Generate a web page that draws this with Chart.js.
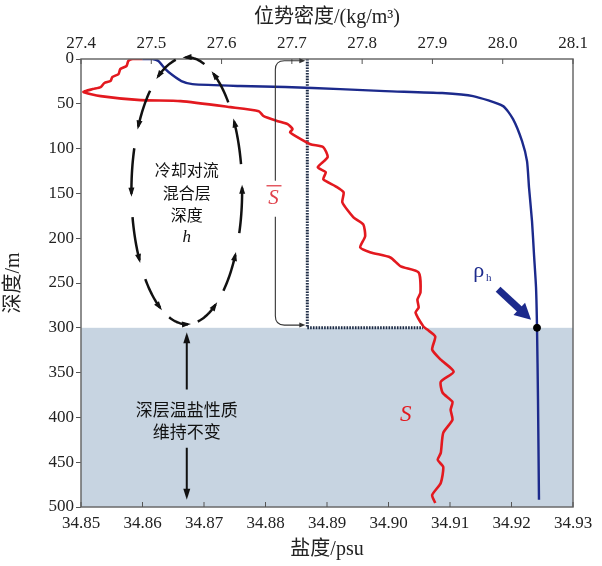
<!DOCTYPE html>
<html><head><meta charset="utf-8">
<script src="https://cdn.jsdelivr.net/npm/chart.js@4.4.1/dist/chart.umd.min.js"></script>
<style>html,body{margin:0;padding:0;background:#fff}</style>
</head><body>
<canvas id="c" width="602" height="566"></canvas>
<script>
// ---------- data ----------
const salinityTicks = [34.85, 34.86, 34.87, 34.88, 34.89, 34.90, 34.91, 34.92, 34.93];
const salinityTickLabels = ['34.85','34.86','34.87','34.88','34.89','34.90','34.91','34.92','34.93'];
const densityTicks = [27.4, 27.5, 27.6, 27.7, 27.8, 27.9, 28.0, 28.1];
const densityTickLabels = ['27.4','27.5','27.6','27.7','27.8','27.9','28.0','28.1'];
const depthTicks = [0, 50, 100, 150, 200, 250, 300, 350, 400, 450, 500];

// salinity profile S (psu) vs depth (m)
const saltDepth = [0, 0, 2.2, 7.8, 11.2, 16.8, 20.1, 24.6, 26.8, 31.3, 33.6, 36.9, 41.4, 45.9, 47, 53.7, 58.2, 63.8, 69.4, 72.7, 78.3, 81.7, 86.1, 95.1, 98.4, 109.6, 120.8, 126.4, 134.2, 142.1, 148.8, 160.0, 176.7, 184.6, 198.0, 210.3, 215.9, 221.5, 231.5, 238.3, 260.6, 268.5, 277.4, 283.0, 298.7, 302.0, 309.8, 324.4, 335.6, 349.0, 360.2, 372.5, 382.6, 391.5, 402.7, 417.2, 439.6, 447.4, 455.3, 473.2, 486.6, 495.5];
const saltValues = [34.8600, 34.8584, 34.8577, 34.8574, 34.8564, 34.8561, 34.8551, 34.8548, 34.8538, 34.8532, 34.8519, 34.8504, 34.8532, 34.8597, 34.8662, 34.8743, 34.8789, 34.8797, 34.8820, 34.8836, 34.8844, 34.8840, 34.8849, 34.8873, 34.8894, 34.8901, 34.8885, 34.8898, 34.8894, 34.8914, 34.8927, 34.8925, 34.8943, 34.8959, 34.8962, 34.8954, 34.8971, 34.9003, 34.9020, 34.9049, 34.9052, 34.9047, 34.9049, 34.9044, 34.9057, 34.9063, 34.9076, 34.9071, 34.9085, 34.9106, 34.9085, 34.9088, 34.9104, 34.9101, 34.9104, 34.9089, 34.9085, 34.9080, 34.9089, 34.9085, 34.9071, 34.9076];

// potential density (kg/m3) vs depth (m)
const densDepth = [0, 0, 2.2, 11.2, 17.9, 24.6, 28.0, 30.2, 31.3, 33.6, 35.8, 38.0, 41.4, 52.6, 67.1, 91.7, 114.1, 143.2, 181.2, 218.1, 255.0, 300, 380, 492];
const densValues = [27.4874, 27.5016, 27.5101, 27.5201, 27.5300, 27.5428, 27.5585, 27.6267, 27.6906, 27.7688, 27.8328, 27.9138, 27.9578, 28.0005, 28.0147, 28.0275, 28.0346, 28.0374, 28.0417, 28.0445, 28.0474, 28.0488, 28.0502, 28.0516];

// mixed layer quantities
const meanSalinity = 34.8868;      // S-bar
const mixedDepth = 300;            // h
const salinityAtH = 34.9056;
const densityAtH = 28.0488;        // rho_h
const bottomDepth = 500;

const FONT = "'Liberation Serif', 'Noto Sans CJK SC', serif";
const CJK = "'Noto Sans CJK SC', 'Liberation Serif', sans-serif";
const RED = '#e3191f';
const BLUE = '#1c2a8c';

function arrowHead(ctx, x, y, ang, len, w) {
  ctx.save(); ctx.translate(x, y); ctx.rotate(ang);
  ctx.beginPath(); ctx.moveTo(0, 0); ctx.lineTo(-len, w / 2); ctx.lineTo(-len, -w / 2); ctx.closePath(); ctx.fill();
  ctx.restore();
}

const decor = {
  id: 'decor',
  beforeDatasetsDraw(chart) {
    const {ctx, chartArea: a, scales} = chart;
    const y = scales.y;
    ctx.save();
    ctx.fillStyle = '#c7d4e1';
    const y0 = y.getPixelForValue(mixedDepth), y1 = y.getPixelForValue(bottomDepth);
    ctx.fillRect(a.left, y0, a.right - a.left, y1 - y0);
    ctx.restore();
  },
  afterDatasetsDraw(chart) {
    const {ctx, chartArea: a, scales} = chart;
    const x = scales.x, x2 = scales.x2, y = scales.y;
    ctx.save();
    // frame
    ctx.strokeStyle = '#6a6a6a'; ctx.lineWidth = 1.5;
    ctx.strokeRect(a.left, a.top, a.right - a.left, a.bottom - a.top);
    // inner ticks
    ctx.lineWidth = 1; ctx.strokeStyle = '#555';
    salinityTicks.forEach(v => { const px = x.getPixelForValue(v); ctx.beginPath(); ctx.moveTo(px, a.bottom); ctx.lineTo(px, a.bottom - 5); ctx.stroke(); });
    densityTicks.forEach(v => { const px = x2.getPixelForValue(v); ctx.beginPath(); ctx.moveTo(px, a.top); ctx.lineTo(px, a.top + 5); ctx.stroke(); });

    // convection ellipse
    const ecS = 34.8672, ecD = 147, erS = 0.0090, erD = 149;
    const cx = x.getPixelForValue(ecS), rx = x.getPixelForValue(ecS + erS) - cx;
    const cy = y.getPixelForValue(ecD), ry = y.getPixelForValue(ecD + erD) - cy;
    ctx.strokeStyle = '#111'; ctx.fillStyle = '#111'; ctx.lineWidth = 2.5; ctx.lineCap = 'butt';
    const n = 12, off = 0.2;
    for (let i = 0; i < n; i++) {
      const t0 = off + i * 2 * Math.PI / n, t1 = t0 + 0.66 * 2 * Math.PI / n;
      ctx.beginPath();
      for (let k = 0; k <= 16; k++) {
        const t = t0 + (t1 - t0) * k / 16;
        const px = cx + rx * Math.cos(t), py = cy - ry * Math.sin(t);
        k ? ctx.lineTo(px, py) : ctx.moveTo(px, py);
      }
      ctx.stroke();
      const tx = cx + rx * Math.cos(t1), ty = cy - ry * Math.sin(t1);
      const ang = Math.atan2(-ry * Math.cos(t1), -rx * Math.sin(t1));
      arrowHead(ctx, tx + 3 * Math.cos(ang), ty + 3 * Math.sin(ang), ang, 9, 6);
    }

    // deep layer double arrow
    const ax = x.getPixelForValue(ecS);
    const yA = y.getPixelForValue(305), yB = y.getPixelForValue(369), yC = y.getPixelForValue(434), yD = y.getPixelForValue(492);
    ctx.lineWidth = 2;
    ctx.beginPath(); ctx.moveTo(ax, yA + 8); ctx.lineTo(ax, yB); ctx.moveTo(ax, yC); ctx.lineTo(ax, yD - 8); ctx.stroke();
    arrowHead(ctx, ax, yA, -Math.PI / 2, 11, 7);
    arrowHead(ctx, ax, yD, Math.PI / 2, 11, 7);

    // S-bar bracket
    const bx = x.getPixelForValue(34.8816), mx = x.getPixelForValue(meanSalinity);
    const bTop = y.getPixelForValue(2), bBot = y.getPixelForValue(297);
    ctx.strokeStyle = '#333'; ctx.fillStyle = '#333'; ctx.lineWidth = 1.1;
    ctx.beginPath();
    ctx.moveTo(bx, y.getPixelForValue(136)); ctx.lineTo(bx, bTop + 9); ctx.quadraticCurveTo(bx, bTop, bx + 9, bTop); ctx.lineTo(mx - 5, bTop);
    ctx.moveTo(bx, y.getPixelForValue(176)); ctx.lineTo(bx, bBot - 9); ctx.quadraticCurveTo(bx, bBot, bx + 9, bBot); ctx.lineTo(mx - 5, bBot);
    ctx.stroke();
    arrowHead(ctx, mx - 2, bTop, 0, 6, 5);
    arrowHead(ctx, mx - 2, bBot, 0, 6, 5);

    // rho_h arrow
    const sx = x2.getPixelForValue(27.9934), sy = y.getPixelForValue(257);
    const ex = x2.getPixelForValue(28.0403), ey = y.getPixelForValue(291);
    const ang2 = Math.atan2(ey - sy, ex - sx);
    ctx.strokeStyle = BLUE; ctx.fillStyle = BLUE; ctx.lineWidth = 7;
    ctx.beginPath(); ctx.moveTo(sx, sy); ctx.lineTo(ex - 12 * Math.cos(ang2), ey - 12 * Math.sin(ang2)); ctx.stroke();
    arrowHead(ctx, ex, ey, ang2, 16, 17);

    // texts
    ctx.textAlign = 'center'; ctx.textBaseline = 'middle';
    ctx.fillStyle = '#111';
    ctx.font = '16px ' + CJK;
    ctx.fillText('冷却对流', cx, y.getPixelForValue(124));
    ctx.fillText('混合层', cx, y.getPixelForValue(149));
    ctx.fillText('深度', cx, y.getPixelForValue(174.5));
    ctx.font = 'italic 17px ' + FONT;
    ctx.fillText('h', cx, y.getPixelForValue(199));
    ctx.font = '17px ' + CJK;
    ctx.fillText('深层温盐性质', cx, y.getPixelForValue(391.5));
    ctx.fillText('维持不变', cx, y.getPixelForValue(416));

    // S-bar label
    ctx.fillStyle = '#e0404a'; ctx.strokeStyle = '#e0404a';
    ctx.font = 'italic 21px ' + FONT;
    const lx = x.getPixelForValue(34.8813), ly = y.getPixelForValue(156);
    ctx.fillText('S', lx, ly);
    ctx.lineWidth = 1.3; ctx.beginPath(); ctx.moveTo(lx - 7, ly - 13); ctx.lineTo(lx + 8, ly - 13); ctx.stroke();
    // S label
    ctx.fillStyle = RED;
    ctx.font = 'italic 23px ' + FONT;
    ctx.fillText('S', x.getPixelForValue(34.9028), y.getPixelForValue(397));
    // rho_h label
    ctx.fillStyle = BLUE;
    ctx.font = '22px ' + FONT;
    const rx0 = x2.getPixelForValue(27.966), ry0 = y.getPixelForValue(237);
    ctx.fillText('ρ', rx0, ry0);
    ctx.font = '11px ' + FONT;
    ctx.fillText('h', rx0 + 10, ry0 + 7);
    ctx.restore();
  }
};

const xy = (xs, ys) => xs.map((v, i) => ({x: v, y: ys[i]}));

new Chart(document.getElementById('c'), {
  type: 'scatter',
  data: {
    datasets: [
      { label: 'S', data: xy(saltValues, saltDepth), xAxisID: 'x', yAxisID: 'y', showLine: true, borderColor: RED, borderWidth: 2.6, pointRadius: 0, tension: 0.2, order: 2 },
      { label: 'rho', data: xy(densValues, densDepth), xAxisID: 'x2', yAxisID: 'y', showLine: true, borderColor: BLUE, borderWidth: 2.4, pointRadius: 0, tension: 0.2, order: 1 },
      { label: 'Sbar', data: [{x: meanSalinity, y: 0}, {x: meanSalinity, y: mixedDepth}, {x: salinityAtH, y: mixedDepth}], xAxisID: 'x', yAxisID: 'y', showLine: true, borderColor: '#1d2b45', borderWidth: 3, borderDash: [1.6, 1.2], pointRadius: 0, tension: 0, order: 3 },
      { label: 'rho_h', data: [{x: densityAtH, y: mixedDepth}], xAxisID: 'x2', yAxisID: 'y', showLine: false, pointRadius: 3.5, pointBackgroundColor: '#000', pointBorderColor: '#000', order: 0 }
    ]
  },
  options: {
    responsive: false, animation: false, devicePixelRatio: 1,
    layout: { padding: { left: 0, right: 29, top: 0, bottom: 0 } },
    plugins: { legend: { display: false }, tooltip: { enabled: false } },
    scales: {
      x: {
        type: 'linear', position: 'bottom', min: 34.85, max: 34.93,
        afterBuildTicks: s => { s.ticks = salinityTicks.map(v => ({value: v})); },
        afterFit: s => { s.height = 59; },
        ticks: { callback: (v, i) => salinityTickLabels[i], color: '#222', font: { family: FONT, size: 17 }, padding: -2, maxRotation: 0, autoSkip: false },
        grid: { display: false }, border: { display: false },
        title: { display: true, text: '盐度/psu', color: '#222', font: { family: FONT, size: 20 }, padding: { top: 0, bottom: 4 } }
      },
      x2: {
        type: 'linear', position: 'top', min: 27.4, max: 28.1,
        afterBuildTicks: s => { s.ticks = densityTicks.map(v => ({value: v})); },
        afterFit: s => { s.height = 59; },
        ticks: { callback: (v, i) => densityTickLabels[i], color: '#222', font: { family: FONT, size: 17 }, padding: -3, maxRotation: 0, autoSkip: false },
        grid: { display: false }, border: { display: false },
        title: { display: true, text: '位势密度/(kg/m³)', color: '#222', font: { family: FONT, size: 20 }, padding: { top: 6, bottom: 0 } }
      },
      y: {
        type: 'linear', reverse: true, min: 0, max: 500,
        afterBuildTicks: s => { s.ticks = depthTicks.map(v => ({value: v})); },
        afterFit: s => { s.width = 81; },
        ticks: { callback: v => String(v), color: '#222', font: { family: FONT, size: 17 }, padding: 2, autoSkip: false },
        grid: { drawOnChartArea: false, drawTicks: true, tickLength: 5, color: '#555' }, border: { display: false },
        title: { display: true, text: '深度/m', color: '#222', font: { family: FONT, size: 20 }, padding: { top: 2, bottom: 0 } }
      }
    }
  },
  plugins: [decor]
});
</script>
</body></html>
